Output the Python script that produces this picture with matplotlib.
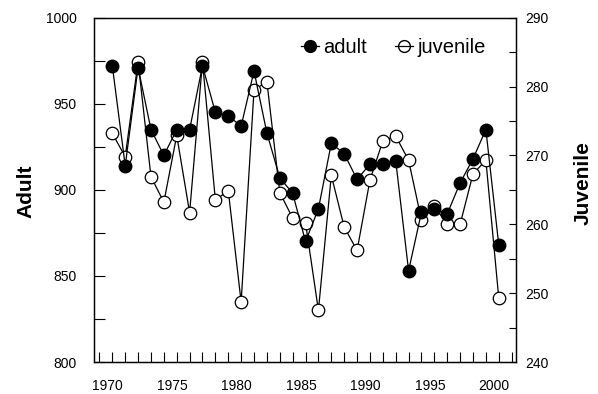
import matplotlib
matplotlib.use('Agg')
import matplotlib.pyplot as plt
import matplotlib.transforms as mtransforms
from matplotlib.lines import Line2D
from matplotlib.ticker import MultipleLocator

""" Adult and juvenile counts, 1970-2000, on two y axes """

years = list(range(1970, 2001))
adult = [972, 914, 971, 935, 920, 935, 935, 972, 945, 943, 937, 969, 933, 907, 898, 870,
         889, 927, 921, 906, 915, 915, 917, 853, 887, 889, 886, 904, 918, 935, 868]
juvenile = [273.2, 269.8, 283.6, 266.9, 263.2, 272.9, 261.7, 283.6, 263.5, 264.9, 248.7,
            279.5, 280.7, 264.6, 260.9, 260.2, 247.5, 267.1, 259.6, 256.2, 266.4, 272.1,
            272.8, 269.3, 260.6, 262.6, 260.0, 260.0, 267.3, 269.3, 249.3]

plt.rcParams['font.family'] = ['Liberation Sans', 'DejaVu Sans']

fig = plt.figure(figsize=(5.98, 3.94), dpi=100)
ax = fig.add_axes([0.1564, 0.0812, 0.7065, 0.874])
ax2 = ax.twinx()

# juvenile underneath, adult drawn on top
ax2.plot(years, juvenile, color='black', lw=0.9, marker='o', ms=9.0,
         mfc='white', mec='black', mew=0.9)
ax.plot(years, adult, color='black', lw=0.9, marker='o', ms=9.0,
        mfc='black', mec='black')
ax.set_zorder(ax2.get_zorder() + 1)
ax.patch.set_visible(False)

ax.set_xlim(1968.54, 2001.34)
ax.set_ylim(800, 1000)
ax2.set_ylim(240, 290)

ax.xaxis.set_major_locator(MultipleLocator(5))
ax.xaxis.set_minor_locator(MultipleLocator(1))
ax.yaxis.set_major_locator(MultipleLocator(50))
ax.yaxis.set_minor_locator(MultipleLocator(25))
ax2.yaxis.set_major_locator(MultipleLocator(10))
ax2.yaxis.set_minor_locator(MultipleLocator(5))

ax.tick_params(axis='x', which='both', direction='in', length=7.2, width=0.8, pad=12,
               labelsize=10, top=False)
ax.tick_params(axis='y', which='both', direction='in', length=7.7, width=0.8, pad=12,
               labelsize=10, right=False)
ax2.tick_params(axis='y', which='both', direction='in', length=4.8, width=0.8, pad=6.5,
                labelsize=10)

# x tick labels sit a little left of their ticks in the original
shift = mtransforms.ScaledTranslation(-4.5 / 100, 0, fig.dpi_scale_trans)
for lab in ax.get_xticklabels():
    lab.set_transform(lab.get_transform() + shift)

for a in (ax, ax2):
    for s in a.spines.values():
        s.set_linewidth(0.9)

fig.text(26 / 598, 1 - 191 / 394, 'Adult', rotation=90, ha='center', va='center',
         fontsize=15, fontweight='bold')
fig.text(583 / 598, 1 - 183 / 394, 'Juvenile', rotation=90, ha='center', va='center',
         fontsize=15, fontweight='bold')

# legend keys: filled dot, and hollow circle with the line running through it
key_ad = Line2D([], [], color='black', lw=0.9, marker='o', ms=8.5, mfc='black', mec='black')
key_juv = Line2D([], [], color='black', lw=0.9, marker='o', ms=8.5, mfc='none', mec='black')
ax.legend([key_ad, key_juv], ['adult', 'juvenile'], loc='center', ncol=2,
          bbox_to_anchor=(0.709, 0.912), frameon=False, fontsize=14.5, numpoints=1,
          handlelength=0.9, handletextpad=0.2, columnspacing=1.4, borderaxespad=0)

fig.savefig('out.png', dpi=100)
